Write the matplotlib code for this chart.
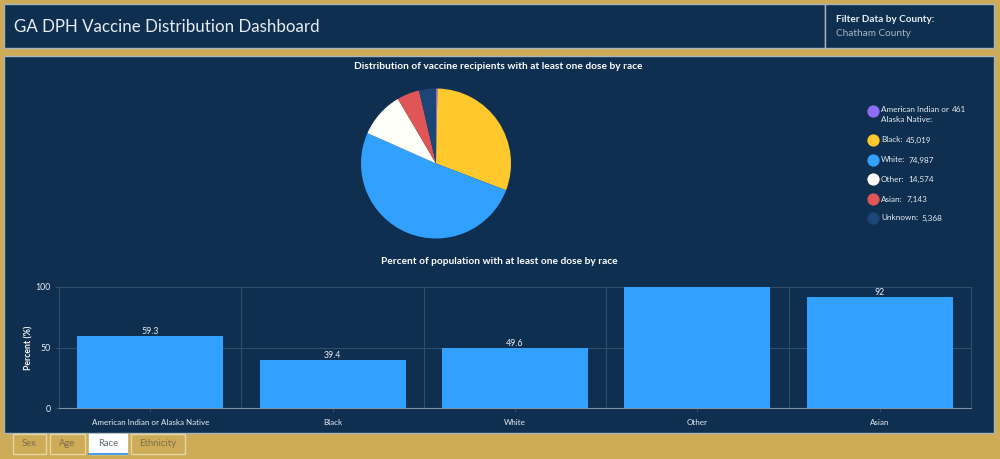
import matplotlib
matplotlib.use('Agg')
import matplotlib.pyplot as plt
from matplotlib.patches import Rectangle

# Donnees
races = ['American Indian or Alaska Native', 'Black', 'White', 'Other', 'Asian']
percent_values = [59.3, 39.4, 49.6, 100, 92]
percent_labels = ['59.3', '39.4', '49.6', '', '92']
pie_names = ['American Indian or\nAlaska Native:', 'Black:', 'White:', 'Other:', 'Asian:', 'Unknown:']
pie_counts = [461, 45019, 74987, 14574, 7143, 5368]
pie_colors = ['#8f6cf5', '#ffc92e', '#31a0ff', '#fffffa', '#e05555', '#1c4677']
tabs = ['Sex', 'Age', 'Race', 'Ethnicity']

GOLD = '#cdab57'
NAVY = '#0e2f50'
TEXT = '#e8edf2'
GRID = '#2f4e6e'
EDGE = '#a9b4bb'

plt.rcParams['font.family'] = ['Lato', 'DejaVu Sans']

W, H = 1000, 459
fig = plt.figure(figsize=(W / 100, H / 100), dpi=100, facecolor=GOLD)

# Calque en pixels pour les panneaux et les textes
bg = fig.add_axes([0, 0, 1, 1])
bg.set_xlim(0, W)
bg.set_ylim(H, 0)
bg.axis('off')


def panel(x0, y0, x1, y1, face=NAVY, edge=EDGE, lw=1):
    bg.add_patch(Rectangle((x0, y0), x1 - x0, y1 - y0, facecolor=face, edgecolor=edge, linewidth=lw))


panel(4, 4, 825, 48)
panel(825, 4, 994, 48)
panel(4, 56, 994, 433)

bg.text(14, 26.5, 'GA DPH Vaccine Distribution Dashboard', color=TEXT, fontsize=12.2, va='center')
bg.text(836, 19, 'Filter Data by County:', color=TEXT, fontsize=7.2, fontweight='bold', va='center')
bg.text(836, 34, 'Chatham County', color='#a9b8c6', fontsize=7.2, va='center')
bg.text(498.5, 66.5, 'Distribution of vaccine recipients with at least one dose by race', color='white',
        fontsize=7.25, fontweight='bold', ha='center', va='center')
bg.text(499, 261, 'Percent of population with at least one dose by race', color='white',
        fontsize=7.25, fontweight='bold', ha='center', va='center')

# Legende du camembert
legend_y = [111, 140, 160, 179, 199, 218]
for name, count, color, y in zip(pie_names, pie_counts, pie_colors, legend_y):
    bg.scatter([872.5], [y], s=78, color=color, linewidths=0)
    if '\n' in name:
        first, second = name.split('\n')
        bg.text(881, y - 1, first, color=TEXT, fontsize=5.9, va='center')
        bg.text(952, y - 1, f'{count:,}', color=TEXT, fontsize=5.9, va='center')
        bg.text(881, y + 9, second, color=TEXT, fontsize=5.9, va='center')
    else:
        label = bg.text(881, y, name, color=TEXT, fontsize=5.9, va='center')
        fig.canvas.draw()
        box = label.get_window_extent()
        bg.text(box.x1 + 3.5, y, f'{count:,}', color=TEXT, fontsize=5.9, va='center')

# Onglets
tab_x = [(13, 46), (50, 85), (89, 127), (131, 185)]
for tab, (x0, x1) in zip(tabs, tab_x):
    active = tab == 'Race'
    panel(x0, 434, x1, 454, face='white' if active else GOLD, edge='white' if active else '#e6d6a6', lw=1)
    if active:
        bg.plot([x0, x1], [453.5, 453.5], color='#4a9fe0', lw=1.5)
    bg.text((x0 + x1) / 2, 444, tab, color='#5f6a70' if active else '#7d7050', fontsize=6.8,
            ha='center', va='center')

# Camembert
pie_ax = fig.add_axes([(436 - 76) / W, 1 - (163.5 + 76) / H, 152 / W, 152 / H])
pie_ax.pie(pie_counts, colors=pie_colors, startangle=90, counterclock=False, radius=1,
           wedgeprops={'linewidth': 0})
pie_ax.set_xlim(-76 / 75, 76 / 75)
pie_ax.set_ylim(-76 / 75, 76 / 75)

# Barres
ax = fig.add_axes([59 / W, 1 - 408 / H, (971 - 59) / W, (408 - 287) / H])
ax.set_facecolor('none')
x = range(len(races))
bars = ax.bar(x, percent_values, width=0.8, color='#31a0ff', zorder=3)
for rect, lab in zip(bars, percent_labels):
    ax.annotate(lab, (rect.get_x() + rect.get_width() / 2, rect.get_height()), xytext=(0, 0),
                textcoords='offset points', ha='center', va='bottom', color=TEXT, fontsize=6.3)
ax.set_xlim(-0.5, len(races) - 0.5)
ax.set_ylim(0, 100)
ax.set_yticks([0, 50, 100])
ax.set_xticks(list(x))
ax.set_xticklabels(races)
ax.set_xticks([i + 0.5 for i in range(-1, len(races))], minor=True)
ax.grid(True, axis='y', color=GRID, lw=0.8, zorder=1)
ax.grid(True, axis='x', which='minor', color=GRID, lw=0.8, zorder=1)
ax.tick_params(axis='x', which='major', colors=TEXT, labelsize=5.75, length=3, color=GRID, pad=5)
ax.tick_params(axis='x', which='minor', length=0)
ax.tick_params(axis='y', colors=TEXT, labelsize=6.3, length=3, color=GRID, pad=3)
for side in ['top', 'right', 'left']:
    ax.spines[side].set_color(GRID)
ax.spines['bottom'].set_color('#7f93a6')
ax.set_ylabel('Percent (%)', color='white', fontsize=6.3, fontweight='bold')
ax.yaxis.set_label_coords(-0.028, 0.5)

fig.savefig('out.png', dpi=100, facecolor=GOLD)
